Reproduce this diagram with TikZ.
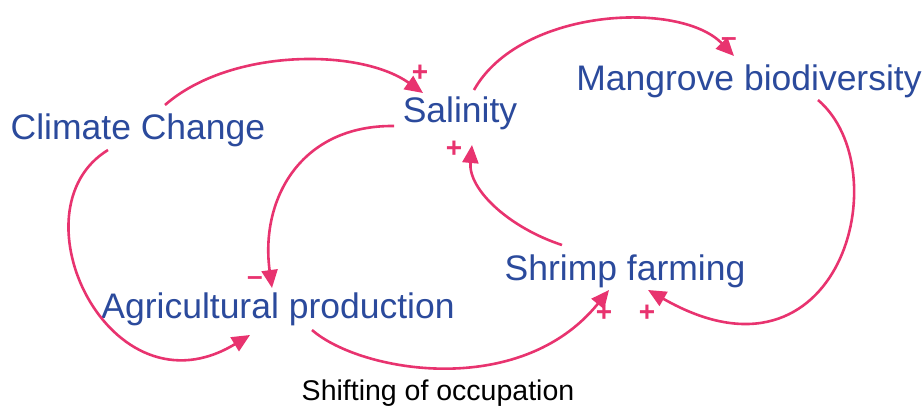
\documentclass[tikz,border=0pt]{standalone}
\usepackage{fontspec}
\setmainfont{Liberation Sans}
\usetikzlibrary{arrows.meta}
\definecolor{lblue}{HTML}{2B4A9C}
\definecolor{mag}{HTML}{E8336F}
\begin{document}
\begin{tikzpicture}[x=1pt,y=-1pt,
  var/.style={text=lblue,font=\fontsize{35.5}{40}\selectfont,inner sep=0pt},
  sgn/.style={text=mag,font=\fontsize{28}{30}\selectfont\bfseries,inner sep=0pt},
  link/.style={draw=mag,line width=2.6pt,-{Triangle[length=18pt,width=16pt]}}]
\useasboundingbox (0,0) rectangle (924,411);
\node[var] (cc) at (138,130) {Climate Change};
\node[var] (sal) at (460,113) {Salinity};
\node[var] (man) at (749,81) {Mangrove biodiversity};
\node[var] (shr) at (625,271) {Shrimp farming};
\node[var] (agr) at (278,309) {Agricultural production};
\node[text=black,font=\fontsize{28.5}{32}\selectfont,inner sep=0pt] (shf) at (438,393) {Shifting of occupation};
\node[sgn] (p1) at (420,73) {+};
\node[sgn] (m1) at (729,42) {–};
\node[sgn] (m2) at (255,281) {–};
\node[sgn] (p2) at (454,149) {+};
\node[sgn] (p3) at (604,313) {+};
\node[sgn] (p4) at (647,313) {+};
\coordinate (a1s) at (165,105); \coordinate (a1e) at (423,93);
\coordinate (a2s) at (108,150); \coordinate (a2e) at (250,335);
\coordinate (a3s) at (394,126); \coordinate (a3e) at (272,288);
\coordinate (a4s) at (474,90); \coordinate (a4e) at (734,56);
\coordinate (a5s) at (818,100); \coordinate (a5e) at (648,290);
\coordinate (a6s) at (562,245); \coordinate (a6e) at (472,145);
\coordinate (a7s) at (312,330); \coordinate (a7e) at (609,290);
\draw[link] (a1s) .. controls (230,48) and (360,48) .. (a1e);
\draw[link] (a2s) .. controls (10,210) and (110,420) .. (a2e);
\draw[link] (a3s) .. controls (300,125) and (260,200) .. (a3e);
\draw[link] (a4s) .. controls (520,8) and (680,0) .. (a4e);
\draw[link] (a5s) .. controls (900,170) and (840,400) .. (a5e);
\draw[link] (a6s) .. controls (510,228) and (468,190) .. (a6e);
\draw[link] (a7s) .. controls (360,372) and (520,400) .. (a7e);
\end{tikzpicture}
\end{document}
